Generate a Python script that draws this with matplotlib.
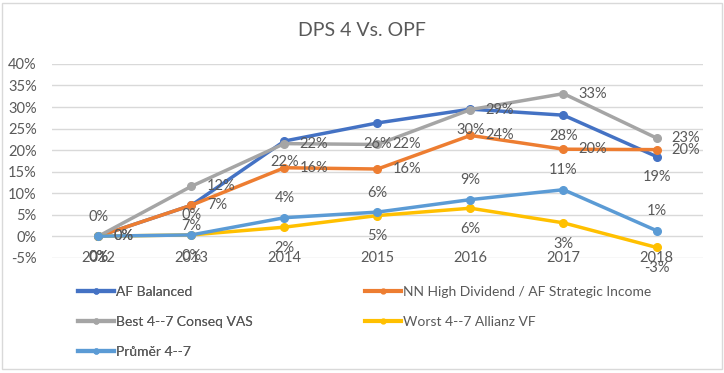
import matplotlib.pyplot as plt
from matplotlib.lines import Line2D
from matplotlib.patches import Rectangle
from matplotlib.ticker import FuncFormatter

plt.rcParams['font.family'] = ['Lato', 'DejaVu Sans']

years = ['2012', '2013', '2014', '2015', '2016', '2017', '2018']

af_balanced = [0.0, 7.2, 22.1, 26.3, 29.5, 28.1, 18.5]
nn_high = [0.0, 7.2, 15.9, 15.6, 23.4, 20.2, 20.1]
best_vas = [0.0, 11.6, 21.5, 21.3, 29.4, 33.1, 22.8]
worst_vf = [0.0, 0.3, 2.1, 4.8, 6.5, 3.1, -2.6]
prumer = [0.0, 0.3, 4.3, 5.6, 8.5, 10.8, 1.3]

# data label texts as shown in the chart
lab_af = ['0%', '7%', '22%', '26%', '30%', '28%', '19%']
lab_nn = ['0%', '7%', '16%', '16%', '24%', '20%', '20%']
lab_best = ['0%', '12%', '22%', '22%', '29%', '33%', '23%']
lab_worst = ['0%', '0%', '2%', '5%', '6%', '3%', '-3%']
lab_prumer = ['0%', '0%', '4%', '6%', '9%', '11%', '1%']

names = ['AF Balanced', 'NN High Dividend / AF Strategic Income',
         'Best 4--7 Conseq VAS', 'Worst 4--7 Allianz VF', 'Průměr 4--7']
colors = ['#4472C4', '#ED7D31', '#A5A5A5', '#FFC000', '#5B9BD5']
txt = '#595959'

fig = plt.figure(figsize=(7.24, 3.73), dpi=100)
ax = fig.add_axes([0.0718, 0.309, 0.8992, 0.5196])

x = list(range(len(years)))
series = [af_balanced, nn_high, best_vas, worst_vf, prumer]
for vals, name, c in zip(series, names, colors):
    ax.plot(x, vals, color=c, lw=2.5, marker='o', ms=5.5, solid_capstyle='round')

fs = 10.5
# labels: af below, nn right, best right, worst below, prumer above
for i in x:
    ax.annotate(lab_af[i], (i, af_balanced[i]), xytext=(0, -10), textcoords='offset points',
                ha='center', va='top', fontsize=fs, color=txt)
    ax.annotate(lab_nn[i], (i, nn_high[i]), xytext=(11, 0), textcoords='offset points',
                ha='left', va='center', fontsize=fs, color=txt)
    ax.annotate(lab_best[i], (i, best_vas[i]), xytext=(11, 0), textcoords='offset points',
                ha='left', va='center', fontsize=fs, color=txt)
    ax.annotate(lab_worst[i], (i, worst_vf[i]), xytext=(0, -10), textcoords='offset points',
                ha='center', va='top', fontsize=fs, color=txt)
    ax.annotate(lab_prumer[i], (i, prumer[i]), xytext=(0, 9), textcoords='offset points',
                ha='center', va='bottom', fontsize=fs, color=txt)

ax.set_xlim(-0.5, len(years) - 0.5)
ax.set_ylim(-5, 40)
ax.set_yticks(range(-5, 41, 5))
ax.yaxis.set_major_formatter(FuncFormatter(lambda v, p: f'{int(v)}%'))
ax.tick_params(axis='y', length=0, pad=11, labelsize=10.5, labelcolor=txt)
ax.set_xticks([])
for i, y in enumerate(years):
    ax.text(i, -5, y, ha='center', va='center', fontsize=10.5, color=txt)
ax.grid(axis='y', color='#D9D9D9', lw=1)
ax.set_axisbelow(True)
for s in ax.spines.values():
    s.set_visible(False)

fig.text(0.5, 0.918, 'DPS 4 Vs. OPF', ha='center', va='center', fontsize=14, color=txt)

handles = [Line2D([], [], color=c, lw=3, marker='o', ms=3.5) for c in colors]
leg_kw = dict(frameon=False, fontsize=10, handlelength=2.6, handletextpad=0.15, numpoints=1,
              labelspacing=1.3, borderaxespad=0, borderpad=0, labelcolor=txt)
leg1 = fig.legend([handles[0], handles[2], handles[4]], [names[0], names[2], names[4]],
                  loc='upper left', bbox_to_anchor=(78 / 724, 1 - 286 / 373), **leg_kw)
fig.add_artist(leg1)
fig.legend([handles[1], handles[3]], [names[1], names[3]],
           loc='upper left', bbox_to_anchor=(365 / 724, 1 - 286 / 373), **leg_kw)

fig.add_artist(Rectangle((1.5 / 724, 4 / 373), 720 / 724, 366 / 373, transform=fig.transFigure,
                         fill=False, edgecolor='#D9D9D9', lw=1))

fig.savefig('out.png', dpi=100)
